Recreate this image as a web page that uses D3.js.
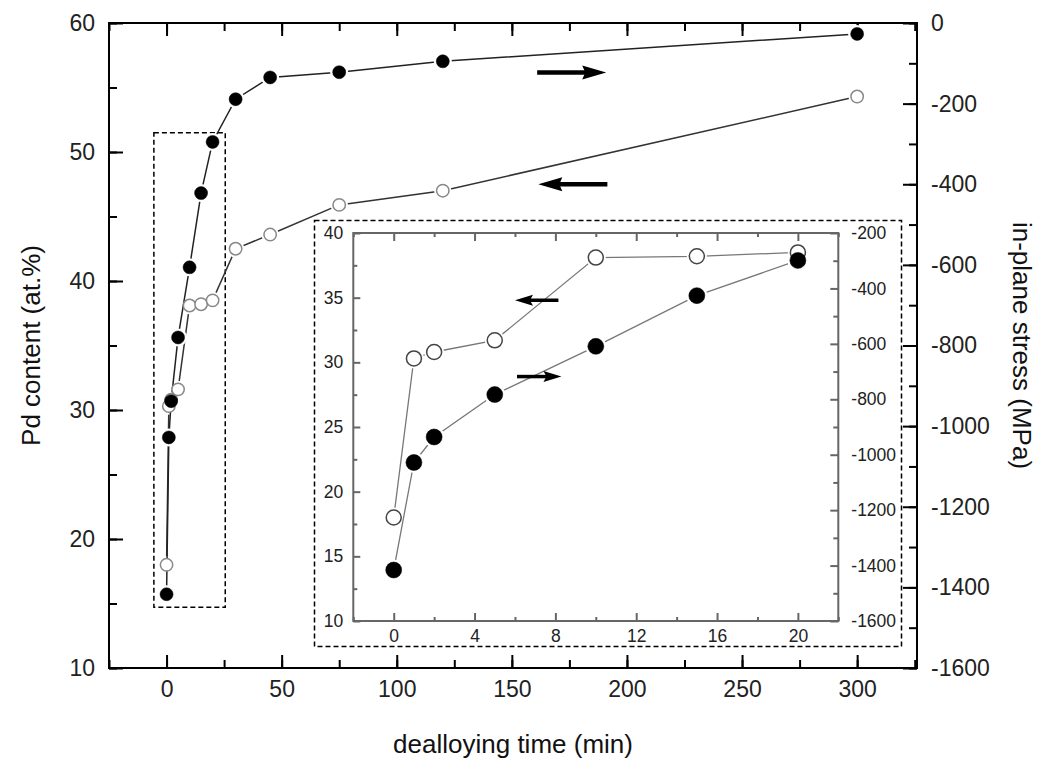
<!DOCTYPE html>
<html>
<head>
<meta charset="utf-8">
<script src="https://cdn.jsdelivr.net/npm/d3@7"></script>
<style>
  body { margin: 0; background: #fff; }
  svg { display: block; font-family: "Liberation Sans", Arial, sans-serif; }
</style>
</head>
<body>
<div id="chart"></div>
<script>
// main panel data (dealloying time in min)
const mainTime = [0, 1, 2, 5, 10, 15, 20, 30, 45, 75, 120, 300];
const mainPd = [18.0, 30.3, 30.8, 31.6, 38.1, 38.2, 38.5, 42.5, 43.6, 45.9, 47.0, 54.3];          // open circles, left axis
const mainStress = [-1417, -1028, -938, -780, -606, -422, -295, -189, -135, -122, -95, -27];    // filled, right axis

// inset data (first 20 min)
const insetTime = [0, 1, 2, 5, 10, 15, 20];
const insetPd = [18.0, 30.3, 30.8, 31.7, 38.1, 38.2, 38.5];
const insetStress = [-1416, -1028, -936, -783, -609, -426, -299];

const xTicks = [0, 50, 100, 150, 200, 250, 300];
const pdTicks = [10, 20, 30, 40, 50, 60];
const stressTicks = [0, -200, -400, -600, -800, -1000, -1200, -1400, -1600];
const insetXTicks = [0, 4, 8, 12, 16, 20];
const insetPdTicks = [10, 15, 20, 25, 30, 35, 40];
const insetStressTicks = [-200, -400, -600, -800, -1000, -1200, -1400, -1600];

// arrows: tail -> head in minutes, height in the axis they point to
const mainArrows = [
  {from: 161, to: 191, stress: -123},
  {from: 191.5, to: 161.5, pd: 47.5}
];
const insetArrows = [
  {from: 8.15, to: 6.0, pd: 34.8},
  {from: 6.1, to: 8.3, pd: 28.9}
];

const width = 1047, height = 761;
const m = {left: 109, right: 917, top: 23, bottom: 668};

const svg = d3.select("#chart").append("svg")
  .attr("width", width).attr("height", height);

const x = d3.scaleLinear().domain([-25, 326]).range([m.left, m.right]);
const yL = d3.scaleLinear().domain([10, 60]).range([m.bottom, m.top]);
const yR = d3.scaleLinear().domain([-1600, 0]).range([m.bottom, m.top]);

const fmt = d => String(d);

function styleAxis(g, color, w, fs) {
  g.select(".domain").remove();
  g.selectAll(".tick line").attr("stroke", color).attr("stroke-width", w);
  g.selectAll(".tick text").attr("fill", "#222").attr("font-size", fs);
}

// ---- main axes ----
const range = (a, b, s) => d3.range(a, b + s / 2, s);

svg.append("g").attr("transform", `translate(0,${m.bottom})`)
  .call(d3.axisBottom(x).tickValues(range(-25, 325, 25)).tickSize(-8).tickFormat(""))
  .call(g => styleAxis(g, "#000", 2, 23));
svg.append("g").attr("transform", `translate(0,${m.bottom})`)
  .call(d3.axisBottom(x).tickValues(xTicks).tickSize(-13).tickPadding(13).tickFormat(fmt))
  .call(g => styleAxis(g, "#000", 2, 23));
svg.append("g").attr("transform", `translate(0,${m.top})`)
  .call(d3.axisTop(x).tickValues(range(-25, 325, 25)).tickSize(-8).tickFormat(""))
  .call(g => styleAxis(g, "#000", 2, 23));
svg.append("g").attr("transform", `translate(0,${m.top})`)
  .call(d3.axisTop(x).tickValues(xTicks).tickSize(-13).tickFormat(""))
  .call(g => styleAxis(g, "#000", 2, 23));

svg.append("g").attr("transform", `translate(${m.left},0)`)
  .call(d3.axisLeft(yL).tickValues(range(10, 60, 5)).tickSize(-8).tickFormat(""))
  .call(g => styleAxis(g, "#000", 2, 23));
svg.append("g").attr("transform", `translate(${m.left},0)`)
  .call(d3.axisLeft(yL).tickValues(pdTicks).tickSize(-14).tickPadding(14).tickFormat(fmt))
  .call(g => styleAxis(g, "#000", 2, 23));
svg.append("g").attr("transform", `translate(${m.right},0)`)
  .call(d3.axisRight(yR).tickValues(range(-1600, 0, 100)).tickSize(-8).tickFormat(""))
  .call(g => styleAxis(g, "#000", 2, 23));
svg.append("g").attr("transform", `translate(${m.right},0)`)
  .call(d3.axisRight(yR).tickValues(stressTicks).tickSize(-14).tickPadding(14).tickFormat(fmt))
  .call(g => styleAxis(g, "#000", 2, 23));

svg.append("rect")
  .attr("x", m.left).attr("y", m.top)
  .attr("width", m.right - m.left).attr("height", m.bottom - m.top)
  .attr("fill", "none").attr("stroke", "#000").attr("stroke-width", 2);

// axis titles
svg.append("text")
  .attr("transform", `translate(40,${(m.top + m.bottom) / 2}) rotate(-90)`)
  .attr("text-anchor", "middle").attr("font-size", 26).attr("fill", "#111")
  .text("Pd content (at.%)");
svg.append("text")
  .attr("transform", `translate(1013,${(m.top + m.bottom) / 2}) rotate(90)`)
  .attr("text-anchor", "middle").attr("font-size", 26).attr("fill", "#111")
  .text("in-plane stress (MPa)");
svg.append("text")
  .attr("x", (m.left + m.right) / 2).attr("y", 753)
  .attr("text-anchor", "middle").attr("font-size", 26).attr("fill", "#111")
  .text("dealloying time (min)");

// dashed box marking the zoomed region
svg.append("rect")
  .attr("x", x(-5.5)).attr("y", yL(51.5))
  .attr("width", x(25.5) - x(-5.5)).attr("height", yL(14.7) - yL(51.5))
  .attr("fill", "none").attr("stroke", "#000").attr("stroke-width", 1.5)
  .attr("stroke-dasharray", "5,3");

// ---- series helpers ----
function drawSeries(g, xs, ys, xScale, yScale, opt) {
  const pts = xs.map((t, i) => [xScale(t), yScale(ys[i])]);
  g.append("path")
    .attr("d", d3.line()(pts))
    .attr("fill", "none").attr("stroke", opt.line).attr("stroke-width", opt.lw);
  // white halo so the line stops short of each symbol
  g.append("g").selectAll("circle").data(pts).join("circle")
    .attr("cx", d => d[0]).attr("cy", d => d[1]).attr("r", opt.r + 2.5)
    .attr("fill", "#fff");
  return pts;
}

function drawMarkers(g, pts, opt) {
  g.append("g").selectAll("circle").data(pts).join("circle")
    .attr("cx", d => d[0]).attr("cy", d => d[1]).attr("r", opt.r)
    .attr("fill", opt.fill).attr("stroke", opt.stroke).attr("stroke-width", opt.sw);
}

const mainG = svg.append("g");
const openOpt = {line: "#333", lw: 1.5, r: 6.2, fill: "#fff", stroke: "#888", sw: 1.5};
const fullOpt = {line: "#222", lw: 1.5, r: 6.5, fill: "#000", stroke: "#000", sw: 0.5};
const pOpen = drawSeries(mainG, mainTime, mainPd, x, yL, openOpt);
const pFull = drawSeries(mainG, mainTime, mainStress, x, yR, fullOpt);
drawMarkers(mainG, pOpen, openOpt);
drawMarkers(mainG, pFull, fullOpt);

// arrows
function arrow(g, x0, x1, y, shaft, headLen, headHalf) {
  const dir = Math.sign(x1 - x0);
  const xb = x1 - dir * headLen;
  g.append("line")
    .attr("x1", x0).attr("x2", xb + dir * 1).attr("y1", y).attr("y2", y)
    .attr("stroke", "#000").attr("stroke-width", shaft);
  g.append("path")
    .attr("d", `M${x1},${y} L${xb - dir * 3},${y - headHalf} L${xb},${y} L${xb - dir * 3},${y + headHalf} Z`)
    .attr("fill", "#000");
}
mainArrows.forEach(a => {
  const y = a.stress !== undefined ? yR(a.stress) : yL(a.pd);
  arrow(svg, x(a.from), x(a.to), y, 4.5, 21, 7);
});

// ---- inset ----
const ib = {left: 353.3, right: 838.3, top: 233, bottom: 621};
svg.append("rect")
  .attr("x", 314.5).attr("y", 220.5).attr("width", 587).attr("height", 426)
  .attr("fill", "#fff").attr("stroke", "#000").attr("stroke-width", 1.5)
  .attr("stroke-dasharray", "5,3");

const xi = d3.scaleLinear().domain([-2, 22]).range([ib.left, ib.right]);
const yiL = d3.scaleLinear().domain([10, 40]).range([ib.bottom, ib.top]);
const yiR = d3.scaleLinear().domain([-1600, -200]).range([ib.bottom, ib.top]);
const gray = "#666";

svg.append("g").attr("transform", `translate(0,${ib.bottom})`)
  .call(d3.axisBottom(xi).tickValues(range(-2, 22, 2).filter(v => v % 4 !== 0)).tickSize(-4).tickFormat(""))
  .call(g => styleAxis(g, gray, 2, 17.5));
svg.append("g").attr("transform", `translate(0,${ib.bottom})`)
  .call(d3.axisBottom(xi).tickValues(insetXTicks).tickSize(-8).tickPadding(9).tickFormat(fmt))
  .call(g => styleAxis(g, gray, 2, 17.5));
svg.append("g").attr("transform", `translate(0,${ib.top})`)
  .call(d3.axisTop(xi).tickValues(range(-2, 22, 2).filter(v => v % 4 !== 0)).tickSize(-4).tickFormat(""))
  .call(g => styleAxis(g, gray, 2, 17.5));
svg.append("g").attr("transform", `translate(0,${ib.top})`)
  .call(d3.axisTop(xi).tickValues(insetXTicks).tickSize(-8).tickFormat(""))
  .call(g => styleAxis(g, gray, 2, 17.5));
svg.append("g").attr("transform", `translate(${ib.left},0)`)
  .call(d3.axisLeft(yiL).tickValues(range(12.5, 37.5, 5)).tickSize(-4).tickFormat(""))
  .call(g => styleAxis(g, gray, 2, 17.5));
svg.append("g").attr("transform", `translate(${ib.left},0)`)
  .call(d3.axisLeft(yiL).tickValues(insetPdTicks).tickSize(-7).tickPadding(10).tickFormat(fmt))
  .call(g => styleAxis(g, gray, 2, 17.5));
svg.append("g").attr("transform", `translate(${ib.right},0)`)
  .call(d3.axisRight(yiR).tickValues(range(-1500, -300, 200)).tickSize(-5).tickFormat(""))
  .call(g => styleAxis(g, gray, 2, 17.5));
svg.append("g").attr("transform", `translate(${ib.right},0)`)
  .call(d3.axisRight(yiR).tickValues(insetStressTicks).tickSize(-8).tickPadding(13).tickFormat(fmt))
  .call(g => styleAxis(g, gray, 2, 17.5));
svg.append("rect")
  .attr("x", ib.left).attr("y", ib.top)
  .attr("width", ib.right - ib.left).attr("height", ib.bottom - ib.top)
  .attr("fill", "none").attr("stroke", gray).attr("stroke-width", 2);

const insetG = svg.append("g");
const iOpenOpt = {line: "#777", lw: 1.3, r: 7.5, fill: "#fff", stroke: "#444", sw: 1.5};
const iFullOpt = {line: "#777", lw: 1.3, r: 8, fill: "#000", stroke: "#000", sw: 0.5};
const ipOpen = drawSeries(insetG, insetTime, insetPd, xi, yiL, iOpenOpt);
const ipFull = drawSeries(insetG, insetTime, insetStress, xi, yiR, iFullOpt);
drawMarkers(insetG, ipOpen, iOpenOpt);
drawMarkers(insetG, ipFull, iFullOpt);

insetArrows.forEach(a => {
  arrow(svg, xi(a.from), xi(a.to), yiL(a.pd), 3.5, 15, 5.5);
});
</script>
</body>
</html>
